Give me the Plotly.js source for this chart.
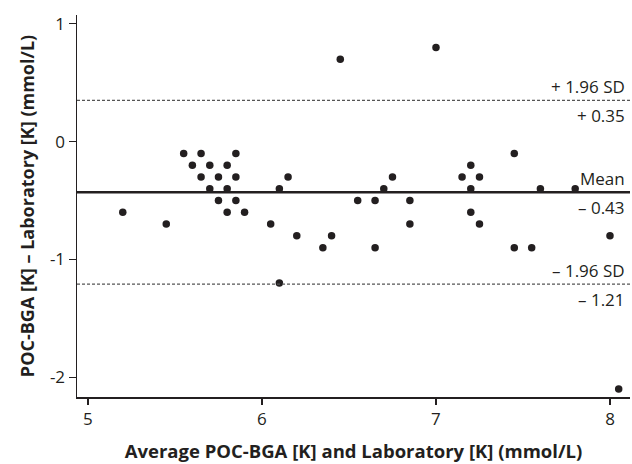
<!DOCTYPE html>
<html>
<head>
<meta charset="utf-8">
<script src="https://cdn.plot.ly/plotly-3.0.1.min.js"></script>
<style>html,body{margin:0;padding:0;background:#fff;}#chart{width:632px;height:464px;}</style>
</head>
<body>
<div id="chart"></div>
<script>
var avgValues = [5.2, 5.45, 5.55, 5.65, 5.85, 5.6, 5.7, 5.8, 5.65, 5.75, 5.85, 5.7, 5.8, 5.75, 5.85, 5.8, 5.9,
  6.15, 6.1, 6.05, 6.2, 6.35, 6.4, 6.1, 6.55, 6.65, 6.65, 6.7, 6.75, 6.85, 6.85,
  7.45, 7.2, 7.15, 7.25, 7.2, 7.6, 7.8, 7.2, 7.25, 7.45, 7.55, 8.0,
  6.45, 7.0, 8.05];
var diffValues = [-0.6, -0.7, -0.1, -0.1, -0.1, -0.2, -0.2, -0.2, -0.3, -0.3, -0.3, -0.4, -0.4, -0.5, -0.5, -0.6, -0.6,
  -0.3, -0.4, -0.7, -0.8, -0.9, -0.8, -1.2, -0.5, -0.5, -0.9, -0.4, -0.3, -0.5, -0.7,
  -0.1, -0.2, -0.3, -0.3, -0.4, -0.4, -0.4, -0.6, -0.7, -0.9, -0.9, -0.8,
  0.7, 0.8, -2.1];
var meanDiff = -0.43;
var upperLoA = 0.35;
var lowerLoA = -1.21;
var lineLabels = ["+ 1.96 SD", "Mean", "\u2013 1.96 SD"];
var valueLabels = ["+ 0.35", "\u2013 0.43", "\u2013 1.21"];
var xTickVals = [5, 6, 7, 8];
var xTickText = ["5", "6", "7", "8"];
var yTickVals = [1, 0, -1, -2];
var yTickText = ["1", "0", "-1", "-2"];

var ink = "#231f20";
var font = "Open Sans, Noto Sans, sans-serif";
var levels = [upperLoA, meanDiff, lowerLoA];

var shapes = levels.map(function (v, i) {
  return {
    type: "line", xref: "paper", yref: "y", x0: 0, x1: 1, y0: v, y1: v,
    line: i === 1 ? {color: ink, width: 2.5} : {color: "#555", width: 1.3, dash: "3px,2px"}
  };
});
var annotations = [];
levels.forEach(function (v, i) {
  annotations.push({xref: "paper", yref: "y", x: 0.995, y: v, xanchor: "right", yanchor: "bottom",
    text: lineLabels[i], showarrow: false, yshift: 0, font: {family: font, size: 17, color: ink}});
  annotations.push({xref: "paper", yref: "y", x: 0.995, y: v, xanchor: "right", yanchor: "top",
    text: valueLabels[i], showarrow: false, yshift: -2, font: {family: font, size: 17, color: ink}});
});

var trace = {
  x: avgValues, y: diffValues, type: "scatter", mode: "markers",
  marker: {color: ink, size: 7.5}, hoverinfo: "x+y"
};

var layout = {
  width: 632, height: 464,
  margin: {l: 77, r: 2, t: 15, b: 67},
  paper_bgcolor: "#fff", plot_bgcolor: "#fff",
  showlegend: false,
  xaxis: {
    range: [4.937, 8.115], showgrid: false, zeroline: false,
    showline: true, linecolor: ink, linewidth: 1.5,
    ticks: "outside", ticklen: 6, tickwidth: 1.2, tickcolor: ink,
    tickvals: xTickVals, ticktext: xTickText,
    tickfont: {family: font, size: 17, color: ink},
    title: {text: "<b>Average POC-BGA [K] and Laboratory [K] (mmol/L)</b>", font: {family: font, size: 18.5, color: ink}, standoff: 16}
  },
  yaxis: {
    range: [-2.168, 1.075], showgrid: false, zeroline: false,
    showline: true, linecolor: ink, linewidth: 1.5,
    ticks: "outside", ticklen: 7, tickwidth: 1.2, tickcolor: ink,
    tickvals: yTickVals, ticktext: yTickText,
    tickfont: {family: font, size: 17, color: ink},
    title: {text: "<b>POC-BGA [K] \u2013 Laboratory [K] (mmol/L)</b>", font: {family: font, size: 18, color: ink}, standoff: 10}
  },
  shapes: shapes,
  annotations: annotations
};

Plotly.newPlot("chart", [trace], layout, {displayModeBar: false, staticPlot: true});
</script>
</body>
</html>
